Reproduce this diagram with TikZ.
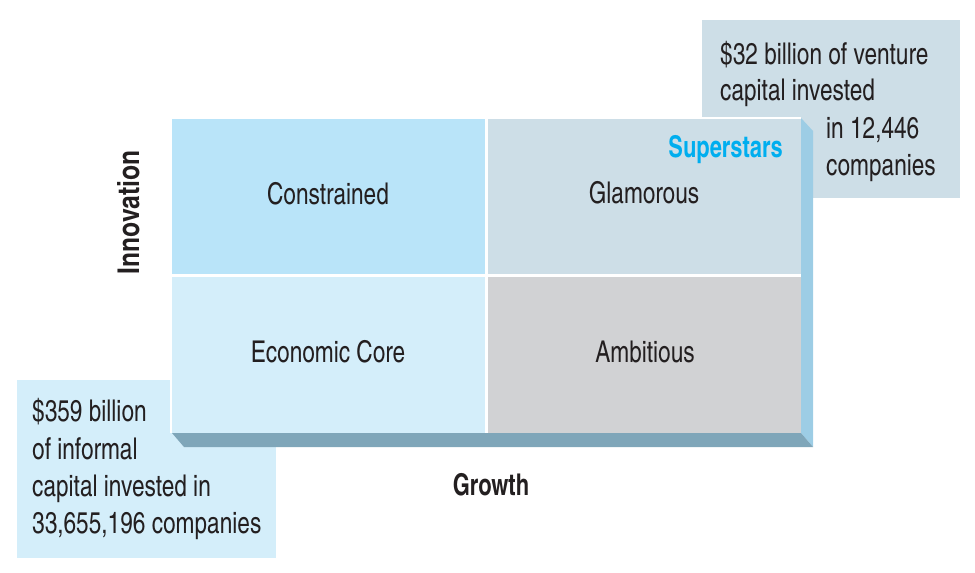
\documentclass[tikz,border=0pt]{standalone}
\usepackage{fontspec}
\setmainfont{TeX Gyre Heros Cn}[FakeStretch=0.92]
\newfontfamily\axisfont{TeX Gyre Heros Cn}[FakeStretch=0.89]
\newfontfamily\vaxisfont{TeX Gyre Heros Cn}
\definecolor{txt}{HTML}{231F20}
\definecolor{cConstr}{HTML}{B9E4F9}
\definecolor{cGlam}{HTML}{CDDEE7}
\definecolor{cEcon}{HTML}{D4EEFA}
\definecolor{cAmb}{HTML}{D1D2D4}
\definecolor{cSide}{HTML}{9DCDE5}
\definecolor{cBottom}{HTML}{7FA6B9}
\definecolor{cStar}{HTML}{00AEEF}
\begin{document}
\begin{tikzpicture}[x=1pt,y=-1pt,
  lbl/.style={inner sep=0pt,anchor=base,text=txt,font=\fontsize{30}{36}\selectfont},
  boxline/.style={inner sep=0pt,anchor=base west,text=txt,font=\fontsize{30}{36}\selectfont},
  axis/.style={inner sep=0pt,anchor=base,text=txt,font=\fontsize{30}{36}\selectfont\axisfont\bfseries}]
\useasboundingbox (0,0) rectangle (975,573);
% callout boxes (behind)
\fill[cGlam] (702,20) rectangle (960,198);
\fill[cEcon] (17,380) rectangle (276,558);
% extrusion
\fill[cSide] (801,118) -- (813,131) -- (813,447) -- (801,433) -- cycle;
\fill[cBottom] (172,433) -- (801,433) -- (813,447) -- (184,447) -- cycle;
% grid
\fill[white] (169.5,116.5) rectangle (801,433);
\fill[cConstr] (172,119) rectangle (484.5,273.5);
\fill[cGlam] (487.5,119) rectangle (801,273.5);
\fill[cEcon] (172,277) rectangle (484.5,433);
\fill[cAmb] (487.5,277) rectangle (801,433);
% cell labels
\node[lbl] (constrained) at (328,204) {Constrained};
\node[lbl] (glamorous) at (644,203) {Glamorous};
\node[lbl] (economic) at (328,362.7) {Economic Core};
\node[lbl] (ambitious) at (645,362.7) {Ambitious};
\node[axis,anchor=base east,text=cStar] (superstars) at (783,157) {Superstars};
% axes
\node[axis] (growth) at (491,495) {Growth};
\node[axis,rotate=90,font=\fontsize{30}{36}\selectfont\vaxisfont\bfseries] (innovation) at (139,212.5) {Innovation};
% top-right text
\node[boxline] (v1) at (720,64.5) {\$32 billion of venture};
\node[boxline] (v2) at (720,100.5) {capital invested};
\node[boxline] (v3) at (826,138) {in 12,446};
\node[boxline] (v4) at (826,175) {companies};
% bottom-left text
\node[boxline] (i1) at (32,421.7) {\$359 billion};
\node[boxline] (i2) at (32,459.3) {of informal};
\node[boxline] (i3) at (32,496.7) {capital invested in};
\node[boxline] (i4) at (32,533.3) {33,655,196 companies};
\end{tikzpicture}
\end{document}
